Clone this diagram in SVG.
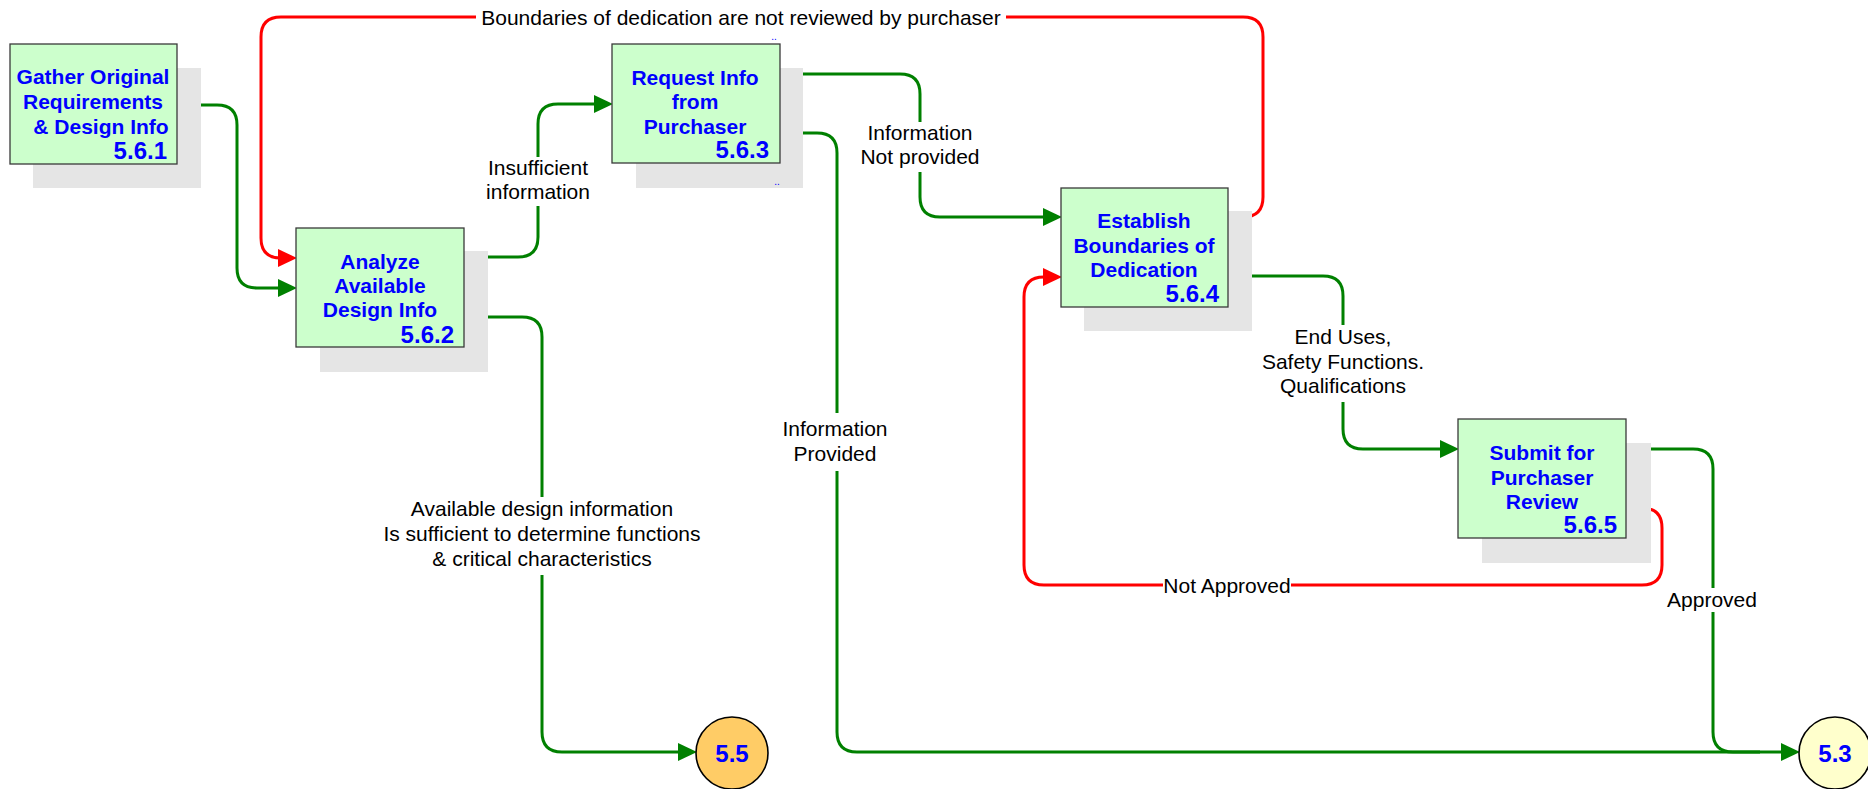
<svg xmlns="http://www.w3.org/2000/svg" width="1868" height="789" viewBox="0 0 1868 789">
<style>
.shadow{fill:#E5E5E5;stroke:none}
.box{fill:#CCFFCC;stroke:#3A3A3A;stroke-width:1.3}
.nt{font-family:"Liberation Sans",Arial,sans-serif;font-weight:bold;font-size:21px;fill:#0000FF;text-anchor:middle}
.num{font-family:"Liberation Sans",Arial,sans-serif;font-weight:bold;font-size:24px;fill:#0000FF;text-anchor:end}
.dots{font-family:"Liberation Sans",Arial,sans-serif;font-size:10px;fill:#0000FF;text-anchor:middle}
.lbl{font-family:"Liberation Sans",Arial,sans-serif;font-size:21px;fill:#000;text-anchor:middle}
.bg{fill:#FFFFFF;stroke:none}
.g{fill:none;stroke:#008000;stroke-width:3;marker-end:url(#ag)}
.gn{fill:none;stroke:#008000;stroke-width:3}
.r{fill:none;stroke:#FF0000;stroke-width:3;marker-end:url(#ar)}
.circ{stroke:#000;stroke-width:1.6}
</style>
<defs>
<marker id="ag" markerUnits="userSpaceOnUse" viewBox="0 0 19 18" markerWidth="19" markerHeight="18" refX="9" refY="9" orient="auto"><path d="M0,0 L19,9 L0,18 z" fill="#008000"/></marker>
<marker id="ar" markerUnits="userSpaceOnUse" viewBox="0 0 19 18" markerWidth="19" markerHeight="18" refX="9" refY="9" orient="auto"><path d="M0,0 L19,9 L0,18 z" fill="#FF0000"/></marker>
</defs>
<rect width="1868" height="789" fill="#FFFFFF"/>

<g id="connectors">
<path class="g" d="M177,105 H217 Q237,105 237,125 V268 Q237,288 257,288 H287"/>
<path class="r" d="M1228,217 H1243 Q1263,217 1263,197 V37 Q1263,17 1243,17 H281 Q261,17 261,37 V238 Q261,258 281,258 H287"/>
<path class="g" d="M464,257 H518 Q538,257 538,237 V124 Q538,104 558,104 H603"/>
<path class="g" d="M464,317 H522 Q542,317 542,337 V732 Q542,752 562,752 H687"/>
<path class="g" d="M780,74 H900 Q920,74 920,94 V197 Q920,217 940,217 H1052"/>
<path class="g" d="M780,133 H817 Q837,133 837,153 V732 Q837,752 857,752 H1790"/>
<path class="g" d="M1228,276 H1323 Q1343,276 1343,296 V429 Q1343,449 1363,449 H1449"/>
<path class="gn" d="M1626,449 H1693 Q1713,449 1713,469 V732 Q1713,752 1733,752 H1760"/>
<path class="r" d="M1626,508 H1642 Q1662,508 1662,528 V565 Q1662,585 1642,585 H1044 Q1024,585 1024,565 V297 Q1024,277 1044,277 H1052"/>

<rect class="bg" x="476" y="6" width="530" height="24"/>
<text class="lbl" x="741" y="25">Boundaries of dedication are not reviewed by purchaser</text>
<rect class="bg" x="488" y="157" width="100" height="49"/>
<text class="lbl" x="538" y="175">Insufficient</text>
<text class="lbl" x="538" y="199">information</text>
<rect class="bg" x="380" y="497" width="325" height="78"/>
<text class="lbl" x="542" y="516">Available design information</text>
<text class="lbl" x="542" y="541">Is sufficient to determine functions</text>
<text class="lbl" x="542" y="566">&amp; critical characteristics</text>
<rect class="bg" x="862" y="122" width="116" height="50"/>
<text class="lbl" x="920" y="140">Information</text>
<text class="lbl" x="920" y="164">Not provided</text>
<rect class="bg" x="778" y="413" width="116" height="58"/>
<text class="lbl" x="835" y="436">Information</text>
<text class="lbl" x="835" y="461">Provided</text>
<rect class="bg" x="1262" y="325" width="162" height="77"/>
<text class="lbl" x="1343" y="344">End Uses,</text>
<text class="lbl" x="1343" y="369">Safety Functions.</text>
<text class="lbl" x="1343" y="393">Qualifications</text>
<rect class="bg" x="1163" y="573" width="128" height="24"/>
<text class="lbl" x="1227" y="593">Not Approved</text>
<rect class="bg" x="1666" y="588" width="92" height="24"/>
<text class="lbl" x="1712" y="607">Approved</text>
</g>

<g id="n561">
<rect class="shadow" x="33" y="68" width="168" height="120"/>
<rect class="box" x="10" y="44" width="167" height="120"/>
<text class="nt" x="93" y="84">Gather Original</text>
<text class="nt" x="93" y="109">Requirements</text>
<text class="nt" x="101" y="134">&amp; Design Info</text>
<text class="num" x="167" y="159">5.6.1</text>
</g>

<g id="n562">
<rect class="shadow" x="320" y="251" width="168" height="121"/>
<rect class="box" x="296" y="228" width="168" height="119"/>
<text class="nt" x="380" y="269">Analyze</text>
<text class="nt" x="380" y="293">Available</text>
<text class="nt" x="380" y="317">Design Info</text>
<text class="num" x="454" y="343">5.6.2</text>
</g>

<g id="n563">
<rect class="shadow" x="636" y="68" width="167" height="120"/>
<rect class="box" x="612" y="44" width="168" height="119"/>
<text class="nt" x="695" y="85">Request Info</text>
<text class="nt" x="695" y="109">from</text>
<text class="nt" x="695" y="134">Purchaser</text>
<text class="num" x="769" y="158">5.6.3</text>
<text class="dots" x="774" y="40">..</text>
<text class="dots" x="777" y="185">..</text>
</g>

<g id="n564">
<rect class="shadow" x="1084" y="211" width="168" height="120"/>
<rect class="box" x="1061" y="188" width="167" height="119"/>
<text class="nt" x="1144" y="228">Establish</text>
<text class="nt" x="1144" y="253">Boundaries of</text>
<text class="nt" x="1144" y="277">Dedication</text>
<text class="num" x="1219" y="302">5.6.4</text>
</g>

<g id="n565">
<rect class="shadow" x="1482" y="443" width="169" height="120"/>
<rect class="box" x="1458" y="419" width="168" height="119"/>
<text class="nt" x="1542" y="460">Submit for</text>
<text class="nt" x="1542" y="485">Purchaser</text>
<text class="nt" x="1542" y="509">Review</text>
<text class="num" x="1617" y="533">5.6.5</text>
</g>

<g id="c55">
<circle class="circ" cx="732" cy="753" r="36" fill="#FFCC66"/>
<text class="nt" x="732" y="762" style="font-size:24px">5.5</text>
</g>

<g id="c53">
<circle class="circ" cx="1835" cy="753" r="36" fill="#FFFFCC"/>
<text class="nt" x="1835" y="762" style="font-size:24px">5.3</text>
</g>
</svg>
